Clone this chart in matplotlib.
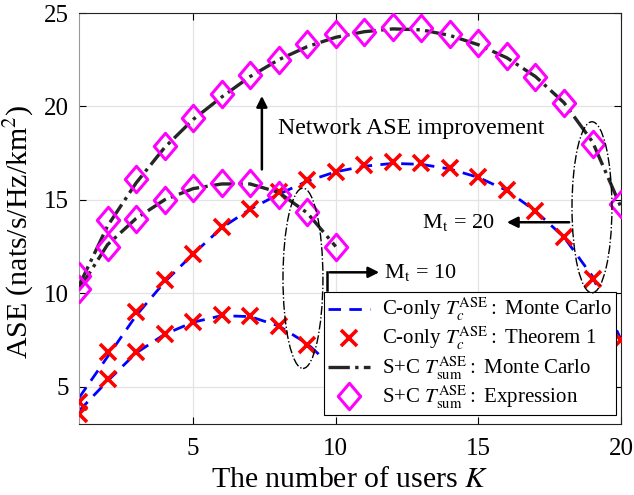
import numpy as np
import matplotlib
matplotlib.use("Agg")
import matplotlib.pyplot as plt
from matplotlib.patches import Ellipse
from matplotlib.path import Path

plt.rcParams['font.family'] = ['Liberation Serif', 'DejaVu Serif']
plt.rcParams['mathtext.fontset'] = 'stix'

# ---- data ----
K20 = [1, 2, 3, 4, 5, 6, 7, 8, 9, 10, 11, 12, 13, 14, 15, 16, 17, 18, 19, 20]
K10 = [1, 2, 3, 4, 5, 6, 7, 8, 9, 10]

conly20_mc = [4.4, 6.6, 8.8, 10.6, 12.1, 13.5, 14.5, 15.3, 16.0, 16.5, 16.8, 16.95, 16.9, 16.65, 16.2, 15.5, 14.4, 13.0, 10.9, 7.5]
conly20_th = [4.17, 6.85, 8.99, 10.69, 12.08, 13.55, 14.53, 15.42, 16.05, 16.5, 16.85, 17.0, 16.98, 16.68, 16.23, 15.5, 14.4, 13.0, 10.78, 7.51]
conly10_mc = [3.7, 5.3, 6.8, 7.8, 8.45, 8.8, 8.75, 8.25, 7.3, 5.9]
conly10_th = [3.51, 5.42, 6.85, 7.83, 8.46, 8.82, 8.76, 8.23, 7.21, 5.9]

sc20_mc = [10.4, 13.6, 15.9, 17.8, 19.3, 20.5, 21.6, 22.5, 23.2, 23.7, 24.0, 24.15, 24.1, 23.8, 23.3, 22.6, 21.6, 20.2, 18.1, 14.6]
sc20_ex = [10.9, 13.9, 16.1, 17.87, 19.4, 20.64, 21.68, 22.5, 23.34, 23.9, 24.0, 24.25, 24.2, 23.9, 23.4, 22.7, 21.6, 20.2, 18.0, 14.8]
sc10_mc = [10.2, 12.6, 14.0, 15.0, 15.6, 15.85, 15.85, 15.4, 14.3, 12.5]
sc10_ex = [10.25, 12.5, 14.0, 14.98, 15.64, 15.9, 15.9, 15.25, 14.35, 12.5]

xticks = [5, 10, 15, 20]
yticks = [5, 10, 15, 20, 25]

fig = plt.figure(figsize=(6.34, 4.95), dpi=100)
ax = fig.add_axes([0.1246, 0.1434, 0.855, 0.8303])

blue_kw = dict(color='#0000ff', lw=2.0, dashes=(4.5, 3.0), zorder=2)
cross_kw = dict(ls='none', marker='x', color='#ff0000', ms=11, mew=2.6, zorder=3)
black_kw = dict(color='#262626', lw=2.4, ls='-.', zorder=3.5)
diam = Path([(0, 1), (0.85, 0), (0, -1), (-0.85, 0), (0, 1)],
            [Path.MOVETO, Path.LINETO, Path.LINETO, Path.LINETO, Path.CLOSEPOLY])
diam_kw = dict(ls='none', marker=diam, ms=19, mfc='none', mec='#ff00ff', mew=2.2, zorder=4)

ax.plot(K20, conly20_mc, label=r'C-only $T_c^{\mathrm{ASE}}:$ Monte Carlo', **blue_kw)
ax.plot(K10, conly10_mc, **blue_kw)
ax.plot(K20, conly20_th, label=r'C-only $T_c^{\mathrm{ASE}}:$ Theorem 1', **cross_kw)
ax.plot(K10, conly10_th, **cross_kw)
ax.plot(K20, sc20_mc, label=r'S+C $T_{\mathrm{sum}}^{\mathrm{ASE}}:$ Monte Carlo', **black_kw)
ax.plot(K10, sc10_mc, **black_kw)
ax.plot(K20, sc20_ex, label=r'S+C $T_{\mathrm{sum}}^{\mathrm{ASE}}:$ Expression', **diam_kw)
ax.plot(K10, sc10_ex, **diam_kw)

ax.set_xlim(1, 20)
ax.set_ylim(3, 25)
ax.set_xticks(xticks)
ax.set_yticks(yticks)
ax.grid(True, color='#e3e3e3', lw=0.9)
ax.set_axisbelow(True)
ax.tick_params(direction='in', top=True, right=True, labelsize=18, length=5, width=0.8)
ax.tick_params(axis='x', pad=10)
ax.tick_params(axis='y', pad=7)
ax.spines['left'].set_color('#999999')
for s in ['top', 'right', 'bottom']:
    ax.spines[s].set_color('#222222')

ax.set_xlabel(r'The number of users $K$', fontsize=21.5, labelpad=5)
ax.set_ylabel(r'ASE (nats/s/Hz/km$^2$)', fontsize=21.5)
ax.yaxis.set_label_coords(-0.08, 0.467)

# annotations
ax.annotate('', xy=(7.41, 20.71), xytext=(7.41, 16.48),
            arrowprops=dict(arrowstyle='-|>', color='black', lw=1.8, mutation_scale=16))
ax.text(7.97, 18.84, 'Network ASE improvement', fontsize=17.2, va='center', ha='left')

ax.add_patch(Ellipse((18.98, 14.6), 1.4, 9.16, fill=False, ls='-.', lw=1.0, ec='black', zorder=6))
ax.add_patch(Ellipse((8.85, 10.8), 1.4, 9.65, fill=False, ls='-.', lw=1.0, ec='black', zorder=6))

ax.annotate('', xy=(15.9, 13.8), xytext=(18.28, 13.8),
            arrowprops=dict(arrowstyle='-|>', color='black', lw=1.8, mutation_scale=16))
ax.text(15.55, 13.8, r'M$_{\mathrm{t}}$ = 20', fontsize=16, va='center', ha='right')

ax.plot([9.69, 9.69], [10.2, 11.12], color='black', lw=1.8, zorder=6)
ax.annotate('', xy=(11.62, 11.12), xytext=(9.69, 11.12),
            arrowprops=dict(arrowstyle='-|>', color='black', lw=1.8, mutation_scale=16))
ax.text(11.7, 11.12, r'M$_{\mathrm{t}}$ = 10', fontsize=16, va='center', ha='left')

leg = ax.legend(loc='lower right', bbox_to_anchor=(0.991, 0.022), fontsize=15,
                fancybox=False, edgecolor='black', framealpha=1, handlelength=2.0,
                borderpad=0.2, labelspacing=0.1, handletextpad=0.6, borderaxespad=0)
leg.get_frame().set_linewidth(0.8)
leg.set_zorder(5)

fig.savefig('out.png', dpi=100)
